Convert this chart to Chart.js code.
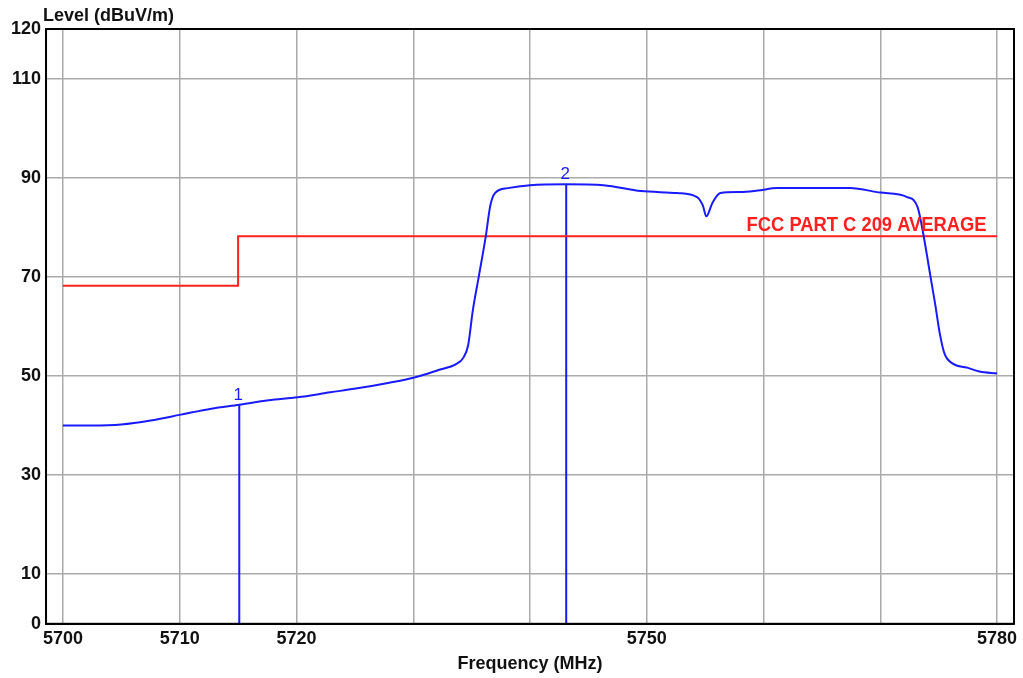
<!DOCTYPE html>
<html>
<head>
<meta charset="utf-8">
<script src="https://cdn.jsdelivr.net/npm/chart.js@4"></script>
<style>
  html, body { margin: 0; padding: 0; background: #fff; }
  #wrap { width: 1023px; height: 678px; position: relative; }
</style>
</head>
<body>
<div id="wrap"><canvas id="c"></canvas></div>
<script>
// spectrum trace (MHz / dBuV/m)
const freqs = [5700, 5702.4, 5705, 5707.5, 5710.1, 5712.7, 5715.1, 5717.6, 5720.1, 5722.9, 5725.2, 5727.6, 5730.1,
  5732.3, 5733.6, 5734.3, 5734.7, 5735.1, 5735.6, 5736.2, 5736.6, 5737, 5738.1, 5740, 5743.1, 5746.3, 5749.5,
  5752.6, 5754.3, 5754.8, 5755.1, 5755.6, 5756.3, 5758, 5759.5, 5761.2, 5767.4, 5770, 5772.3, 5773.2, 5773.7,
  5774.3, 5774.7, 5775.1, 5775.5, 5776.2, 5777.4, 5778.5, 5780];
const levels = [40.0, 40.0, 40.2, 41.0, 42.2, 43.4, 44.2, 45.1, 45.7, 46.7, 47.5, 48.5, 49.7,
  51.3, 52.3, 53.7, 56.2, 63.2, 69.9, 78.0, 84.4, 86.9, 87.9, 88.5, 88.7, 88.5, 87.3,
  86.9, 86.1, 84.4, 82.2, 84.8, 86.9, 87.1, 87.4, 87.9, 87.9, 87.0, 86.1, 84.0, 78.4,
  70.0, 64.5, 58.5, 54.5, 52.5, 51.7, 50.9, 50.5];

// limit line
const limitFreqs = [5700, 5715, 5715, 5780];
const limitLevels = [68.2, 68.2, 78.2, 78.2];
const limitName = 'FCC PART C 209 AVERAGE';

// markers
const markerNames = ['1', '2'];
const markerFreqs = [5715.1, 5743.1];
const markerLevels = [44.2, 88.7];

// axes
const xGrid = [5700, 5710, 5720, 5730, 5740, 5750, 5760, 5770, 5780];
const xLabels = [5700, 5710, 5720, 5750, 5780];
const yTicks = [0, 10, 30, 50, 70, 90, 110, 120];

const FONT = '"Liberation Sans", Arial, sans-serif';
const BLUE = '#1a1aff';
const RED = '#ff2020';

const extras = {
  id: 'extras',
  afterDraw(chart) {
    const { ctx, chartArea: a, scales: { x, y } } = chart;
    ctx.save();
    // frame
    ctx.strokeStyle = '#000';
    ctx.lineWidth = 2;
    ctx.strokeRect(a.left, a.top, a.right - a.left, a.bottom - a.top);
    // y title
    ctx.fillStyle = '#111';
    ctx.font = 'bold 18px ' + FONT;
    ctx.textAlign = 'left';
    ctx.textBaseline = 'alphabetic';
    ctx.fillText('Level (dBuV/m)', 43, 21);
    // limit label
    ctx.fillStyle = RED;
    ctx.font = 'bold 20px ' + FONT;
    ctx.textAlign = 'right';
    ctx.fillText(limitName, x.getPixelForValue(5779.1), y.getPixelForValue(limitLevels[3]) - 5, 240);
    // marker labels
    ctx.fillStyle = BLUE;
    ctx.font = '17px ' + FONT;
    ctx.textAlign = 'center';
    markerNames.forEach((n, i) => {
      ctx.fillText(n, x.getPixelForValue(markerFreqs[i]) - 1, y.getPixelForValue(markerLevels[i]) - 5);
    });
    ctx.restore();
  }
};

new Chart(document.getElementById('c'), {
  type: 'line',
  data: {
    datasets: [
      { data: freqs.map((f, i) => ({ x: f, y: levels[i] })), borderColor: BLUE, borderWidth: 2,
        pointRadius: 0, cubicInterpolationMode: 'monotone' },
      { data: limitFreqs.map((f, i) => ({ x: f, y: limitLevels[i] })), borderColor: RED, borderWidth: 2,
        pointRadius: 0, tension: 0 },
      ...markerFreqs.map((f, i) => ({
        data: [{ x: f, y: 0 }, { x: f, y: markerLevels[i] }], borderColor: BLUE, borderWidth: 2, pointRadius: 0
      })),
    ],
  },
  options: {
    responsive: true, maintainAspectRatio: false, animation: false,
    layout: { padding: { left: 6, right: 9, top: 29, bottom: 3 } },
    plugins: { legend: { display: false }, tooltip: { enabled: false } },
    scales: {
      x: {
        type: 'linear', min: 5698.55, max: 5781.45,
        afterBuildTicks: s => { s.ticks = xGrid.map(v => ({ value: v })); },
        grid: { color: '#aaaaaa', lineWidth: 1.5, drawTicks: false },
        border: { color: '#000', width: 2 },
        ticks: {
          color: '#111', padding: 4, maxRotation: 0, autoSkip: false,
          font: { family: FONT, size: 18, weight: 'bold' },
          callback: v => xLabels.includes(v) ? String(v) : '',
        },
        title: { display: true, text: 'Frequency (MHz)', color: '#111', padding: { top: 0, bottom: 0 },
          font: { family: FONT, size: 18, weight: 'bold' } },
      },
      y: {
        min: 0, max: 120,
        afterBuildTicks: s => { s.ticks = yTicks.map(v => ({ value: v })); },
        grid: { color: '#aaaaaa', lineWidth: 1.5, drawTicks: false },
        border: { color: '#000', width: 2 },
        ticks: { color: '#111', padding: 5, autoSkip: false, font: { family: FONT, size: 18, weight: 'bold' } },
      },
    },
  },
  plugins: [extras],
});
</script>
</body>
</html>
